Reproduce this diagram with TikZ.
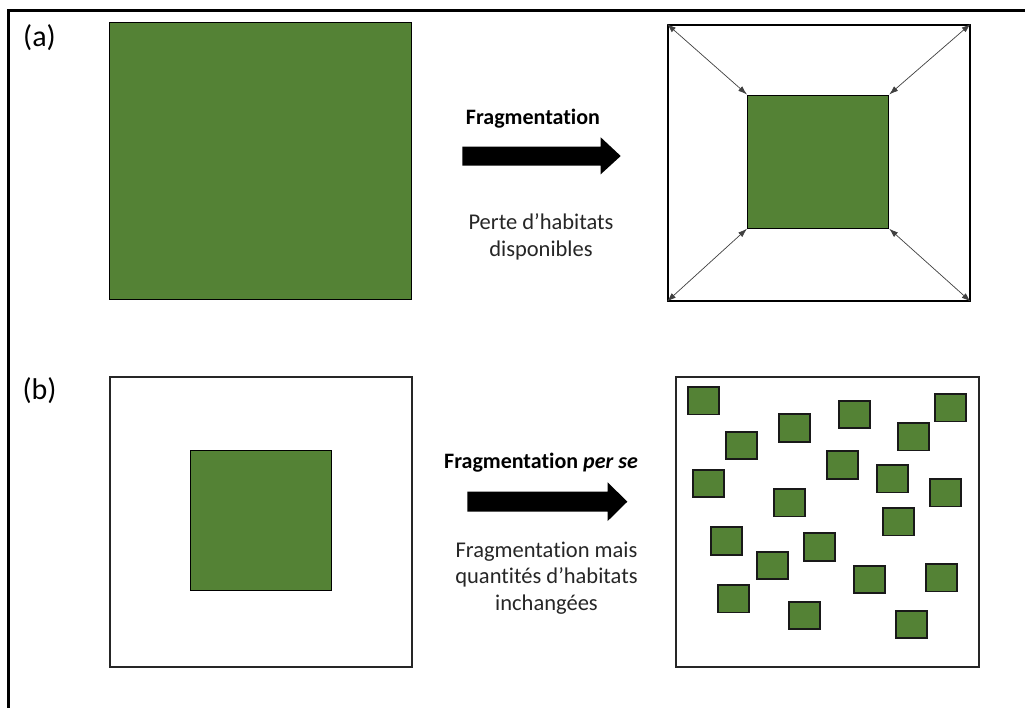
\documentclass[tikz,border=0pt]{standalone}
\usepackage{fontspec}
\setmainfont{Carlito}[Ligatures=NoCommon]
\usepackage{xcolor}
\usetikzlibrary{
  arrows.meta,
  positioning
}
\definecolor{habitat}{RGB}{84,130,53}
\tikzset{
  patch/.style={draw=black, line width=1.2pt, fill=habitat, inner sep=0pt, anchor=north west},
  smallpatch/.style={patch, draw=black!90, line width=1.8pt, minimum width=31pt, minimum height=27.5pt},
  landscape/.style={draw=black, line width=1.5pt, fill=white, inner sep=0pt, anchor=north west},
  spread/.style={{Latex[length=9pt,width=6pt]}-{Latex[length=9pt,width=6pt]}, line width=0.7pt, black!75},
  blockarrow/.style={fill=black},
  caption/.style={font=\fontsize{22.5}{26.5}\selectfont, text=black!85, align=center},
  heading/.style={font=\fontsize{22}{26.5}\selectfont\bfseries},
  paneltag/.style={font=\fontsize{30}{36}\selectfont}
}

\begin{document}
\begin{tikzpicture}[x=1pt,y=-1pt]
  \clip (0,0) rectangle (1025,707);
  % Outer frame (cut at right and bottom)
  \draw[line width=3pt] (8.5,760) |- (1080,10.5);
  % Panel tags
  \node[paneltag] (tagA) at (39.5,38) {(a)};
  \node[paneltag] (tagB) at (39.5,391) {(b)};

  % (a) Habitat loss
  \node[patch, minimum width=302pt, minimum height=277pt] (habA) at (109,22) {};
  \node[landscape, minimum width=302pt, minimum height=276pt] (frameA) at (667,24) {};
  \node[patch, minimum width=141pt, minimum height=133pt] (coreA) at (747,94.5) {};
  \draw[spread] (frameA.north west) -- (coreA.north west);
  \draw[spread] (frameA.north east) -- (coreA.north east);
  \draw[spread] (frameA.south west) -- (coreA.south west);
  \draw[spread] (frameA.south east) -- (coreA.south east);
  \fill[blockarrow] (462.3,146.7) -- (600.7,146.7) -- (600.7,137.3) -- (620.7,156)
    -- (600.7,174.3) -- (600.7,165.7) -- (462.3,165.7) -- cycle;
  \node[heading, anchor=base] (titleA) at (533,124.5) {Fragmentation};
  \node[caption] (lossA) at (541,237) {Perte d’habitats\\disponibles};

  % (b) Fragmentation per se
  \node[landscape, line width=2pt, draw=black!85, minimum width=302pt, minimum height=290pt] (frameB) at (109,376) {};
  \node[patch, minimum width=141pt, minimum height=140pt] (coreB) at (190,450) {};
  \node[landscape, line width=2pt, draw=black!85, minimum width=303pt, minimum height=290pt] (mosaicB) at (675,376) {};
  \foreach \px/\py [count=\i] in {687.3/386, 725.3/430.7, 777.7/413.3, 692/468.7,
      772.7/488, 710.3/526.3, 756/550.7, 717/584, 787.7/600.7, 803.3/532.3,
      826.3/450.3, 838.3/399.7, 933.7/393, 897/422, 875.7/464, 928.7/478,
      882/507, 853/564.7, 925.3/563, 895.3/609.7}
    \node[smallpatch] (patch\i) at (\px,\py) {};
  \fill[blockarrow] (467.3,491.7) -- (607.7,491.7) -- (607.7,482.3) -- (627.3,501.7)
    -- (607.7,521) -- (607.7,511.7) -- (467.3,511.7) -- cycle;
  \node[heading, anchor=base] (titleB) at (541,468) {Fragmentation \textit{per se}};
  \node[caption] (keepB) at (546.5,578) {Fragmentation mais\\quantités d’habitats\\inchangées};
\end{tikzpicture}
\end{document}
